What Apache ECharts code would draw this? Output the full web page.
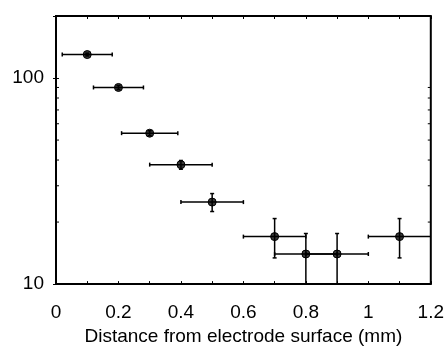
<!DOCTYPE html>
<html>
<head>
<meta charset="utf-8">
<script src="https://cdn.jsdelivr.net/npm/echarts@6/dist/echarts.min.js"></script>
<style>html,body{margin:0;padding:0;background:#fff;}#c{width:447px;height:351px;}</style>
</head>
<body>
<div id="c"></div>
<script>
// Data
const xValues = [0.1, 0.2, 0.3, 0.4, 0.5, 0.7, 0.8, 0.9, 1.1];
const yValues = [130, 90, 54, 38, 25, 17, 14, 14, 17];
const xLow  = [0.02, 0.12, 0.21, 0.30, 0.40, 0.60, 0.70, 0.80, 1.00];
const xHigh = [0.18, 0.28, 0.39, 0.50, 0.60, 0.80, 0.90, 1.00, 1.20];
const yLow  = [128, 88, 52.5, 36.1, 22.5, 13.4, 10, 10, 13.4];
const yHigh = [132, 92, 55.5, 39.8, 27.5, 20.8, 17.6, 17.6, 20.8];
const yMinorTicks = [20, 30, 40, 50, 60, 70, 80, 90, 200];
const xAxisTitle = 'Distance from electrode surface (mm)';

const FONT = "'Liberation Sans', Arial, sans-serif";

const points = xValues.map((x, i) => [x, yValues[i]]);
const errData = xValues.map((x, i) => [x, yValues[i], xLow[i], xHigh[i], yLow[i], yHigh[i]]);

const chart = echarts.init(document.getElementById('c'), null, {renderer: 'canvas'});

const lineStyle = {stroke: '#000', lineWidth: 1.5};
function seg(p1, p2) {
  return {type: 'line', shape: {x1: p1[0], y1: p1[1], x2: p2[0], y2: p2[1]}, style: lineStyle};
}

chart.setOption({
  animation: false,
  grid: {left: 56, right: 16, top: 16, bottom: 60, show: true, borderColor: '#000', borderWidth: 2, backgroundColor: 'transparent'},
  xAxis: [{
    type: 'value', min: 0, max: 1.2, interval: 0.1, position: 'bottom',
    axisLine: {show: false},
    axisTick: {show: true, inside: true, length: 3, lineStyle: {color: '#000', width: 1}},
    splitLine: {show: false},
    axisLabel: {
      color: '#000', fontSize: 19, fontFamily: FONT, margin: 19,
      formatter: v => (Math.round(v * 10) % 2 === 0 ? String(Math.round(v * 10) / 10) : '')
    },
    name: xAxisTitle, nameLocation: 'middle', nameGap: 42,
    nameTextStyle: {color: '#000', fontSize: 19, fontFamily: FONT}
  }, {
    type: 'value', min: 0, max: 1.2, interval: 0.1, position: 'top',
    axisLine: {show: false},
    axisTick: {show: true, inside: true, length: 3, lineStyle: {color: '#000', width: 1}},
    splitLine: {show: false},
    axisLabel: {show: false}
  }],
  yAxis: [{
    type: 'log', logBase: 10, min: 10, max: 200, position: 'left',
    axisLine: {show: false},
    axisTick: {show: true, inside: true, length: 3, lineStyle: {color: '#000', width: 1}},
    splitLine: {show: false},
    axisLabel: {
      color: '#000', fontSize: 19, fontFamily: FONT, margin: 12, padding: [4, 0, 0, 0],
      formatter: v => (v === 10 || v === 100 ? String(v) : '')
    }
  }, {
    type: 'log', logBase: 10, min: 10, max: 200, position: 'right',
    axisLine: {show: false},
    axisTick: {show: true, inside: true, length: 3, lineStyle: {color: '#000', width: 1}},
    splitLine: {show: false},
    axisLabel: {show: false}
  }],
  series: [{
    type: 'custom',
    name: 'minorTicks',
    xAxisIndex: 0, yAxisIndex: 0,
    data: yMinorTicks.map(v => [v]),
    silent: true,
    z: 1,
    renderItem: function (params, api) {
      const v = api.value(0);
      const l = api.coord([0, v]);
      const r = api.coord([1.2, v]);
      return {type: 'group', children: [
        {type: 'line', shape: {x1: l[0], y1: l[1], x2: l[0] + 3, y2: l[1]}, style: {stroke: '#000', lineWidth: 1}},
        {type: 'line', shape: {x1: r[0], y1: r[1], x2: r[0] - 3, y2: r[1]}, style: {stroke: '#000', lineWidth: 1}}
      ]};
    }
  }, {
    type: 'scatter',
    xAxisIndex: 0, yAxisIndex: 0,
    data: points,
    symbol: 'circle', symbolSize: 8,
    itemStyle: {color: '#3a3a3a', borderColor: '#000', borderWidth: 1, opacity: 1},
    z: 2
  }, {
    type: 'custom',
    name: 'errors',
    xAxisIndex: 0, yAxisIndex: 0,
    data: errData,
    clip: true,
    z: 3,
    renderItem: function (params, api) {
      const x = api.value(0), y = api.value(1);
      const pL = api.coord([api.value(2), y]);
      const pR = api.coord([api.value(3), y]);
      const pB = api.coord([x, api.value(4)]);
      const pT = api.coord([x, api.value(5)]);
      const c = 2;
      return {type: 'group', children: [
        seg(pL, pR),
        seg([pL[0], pL[1] - c], [pL[0], pL[1] + c]),
        seg([pR[0], pR[1] - c], [pR[0], pR[1] + c]),
        seg(pB, pT),
        seg([pB[0] - c, pB[1]], [pB[0] + c, pB[1]]),
        seg([pT[0] - c, pT[1]], [pT[0] + c, pT[1]])
      ]};
    }
  }]
});
</script>
</body>
</html>
